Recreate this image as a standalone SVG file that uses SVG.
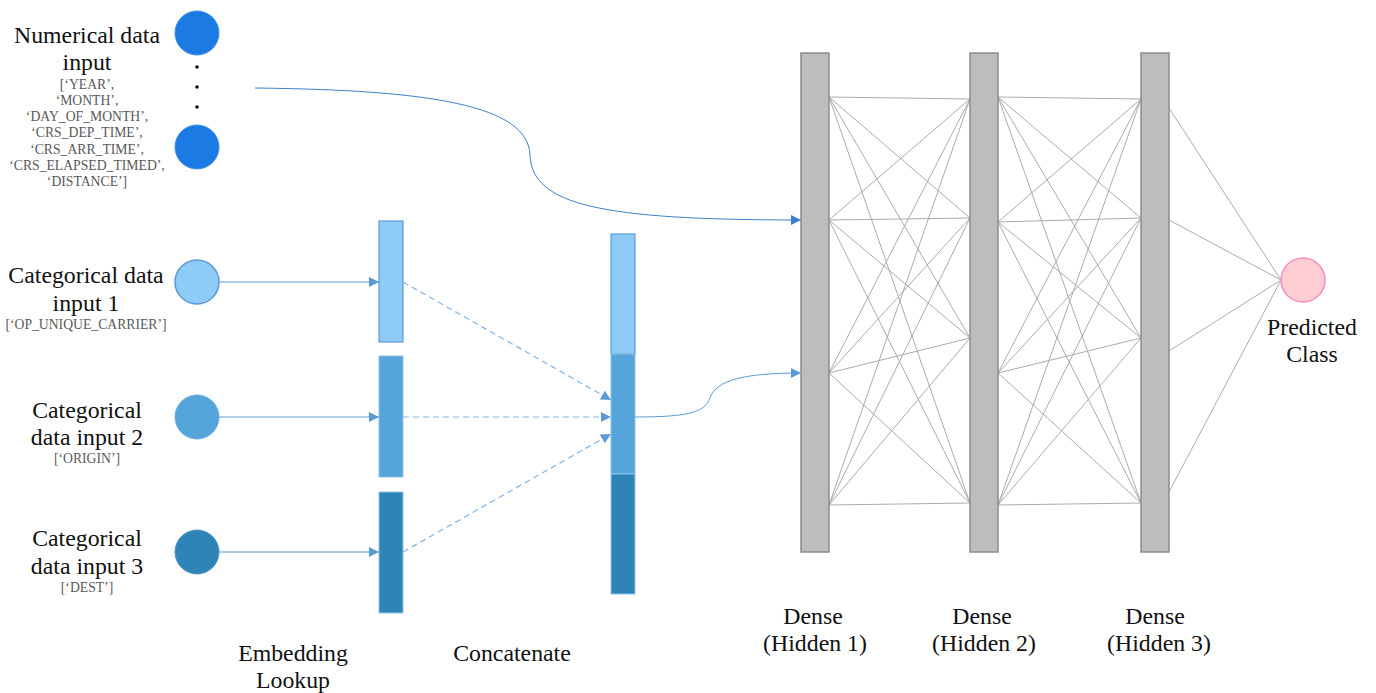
<svg xmlns="http://www.w3.org/2000/svg" width="1376" height="693" viewBox="0 0 1376 693">
<style>
.t{font-family:"Liberation Serif","Times New Roman",serif;font-size:23.8px;fill:#111;text-anchor:middle}
.s{font-family:"Liberation Serif","Times New Roman",serif;font-size:13.7px;fill:#595959;text-anchor:middle}
.nn{stroke:#ababab;stroke-width:1;fill:none}
.dense{fill:#bdbdbd;stroke:#8c8c8c;stroke-width:1.5}
.in{stroke:#5b9bd5;stroke-width:1;fill:none}
.dash{stroke:#80b4e6;stroke-width:1.2;fill:none;stroke-dasharray:6 4}
</style>
<defs>
<marker id="ah" viewBox="0 0 10 10" refX="10" refY="5" markerWidth="10" markerHeight="10" markerUnits="userSpaceOnUse" orient="auto">
<path d="M0,0 L10,5 L0,10 z" fill="#5b9bd5"/>
</marker>
<marker id="ah2" viewBox="0 0 10 10" refX="10" refY="5" markerWidth="10" markerHeight="10" markerUnits="userSpaceOnUse" orient="auto">
<path d="M0,0 L10,5 L0,10 z" fill="#3f7fd0"/>
</marker>
</defs>
<rect width="1376" height="693" fill="#fff"/>

<g id="numerical">
<circle cx="197" cy="33" r="22" fill="#1c7be2" stroke="#3a8ee8" stroke-width="1"/>
<circle cx="197" cy="67" r="1.8" fill="#111"/>
<circle cx="197" cy="87" r="1.8" fill="#111"/>
<circle cx="197" cy="107" r="1.8" fill="#111"/>
<circle cx="197" cy="147" r="22" fill="#1c7be2" stroke="#3a8ee8" stroke-width="1"/>
<text class="t" x="87" y="43">Numerical data</text>
<text class="t" x="87" y="70">input</text>
<text class="s" x="87" y="89">[‘YEAR’,</text>
<text class="s" x="87" y="105">‘MONTH’,</text>
<text class="s" x="87" y="121">‘DAY_OF_MONTH’,</text>
<text class="s" x="87" y="137">‘CRS_DEP_TIME’,</text>
<text class="s" x="87" y="154">‘CRS_ARR_TIME’,</text>
<text class="s" x="87" y="170">‘CRS_ELAPSED_TIMED’,</text>
<text class="s" x="87" y="186">‘DISTANCE’]</text>
</g>

<g id="cat1">
<circle cx="197" cy="282" r="22" fill="#8ecbf7" stroke="#5b9bd5" stroke-width="1.5"/>
<text class="t" x="86" y="283">Categorical data</text>
<text class="t" x="86" y="311">input 1</text>
<text class="s" x="86" y="329">[‘OP_UNIQUE_CARRIER’]</text>
</g>
<g id="cat2">
<circle cx="197" cy="417" r="22" fill="#55a5da" stroke="#6aaee0" stroke-width="1"/>
<text class="t" x="87" y="418">Categorical</text>
<text class="t" x="87" y="445">data input 2</text>
<text class="s" x="87" y="463">[‘ORIGIN’]</text>
</g>
<g id="cat3">
<circle cx="197" cy="552" r="22" fill="#2e83b7" stroke="#4a94c4" stroke-width="1"/>
<text class="t" x="87" y="546">Categorical</text>
<text class="t" x="87" y="574">data input 3</text>
<text class="s" x="87" y="592">[‘DEST’]</text>
</g>

<g id="embedding">
<rect x="379" y="221" width="24" height="121" fill="#8ecbf7" stroke="#5b9bd5" stroke-width="1.2"/>
<rect x="379" y="356" width="24" height="121" fill="#55a5da" stroke="#8ec3ea" stroke-width="1"/>
<rect x="379" y="492" width="24" height="121" fill="#2e83b7" stroke="#8ec3ea" stroke-width="1"/>
<text class="t" x="293" y="661">Embedding</text>
<text class="t" x="293" y="688">Lookup</text>
</g>

<g id="concatenate">
<rect x="611" y="234" width="24" height="120" fill="#8ecbf7" stroke="#5b9bd5" stroke-width="1.2"/>
<rect x="611" y="354" width="24" height="120" fill="#55a5da" stroke="#8ec3ea" stroke-width="1"/>
<rect x="611" y="474" width="24" height="120" fill="#2e83b7" stroke="#8ec3ea" stroke-width="1"/>
<text class="t" x="512" y="661">Concatenate</text>
</g>

<g id="connectors">
<line class="in" x1="219" y1="282" x2="379" y2="282" marker-end="url(#ah)"/>
<line class="in" x1="219" y1="417" x2="379" y2="417" marker-end="url(#ah)"/>
<line class="in" x1="219" y1="552" x2="379" y2="552" marker-end="url(#ah)"/>
<line class="dash" x1="403" y1="282" x2="611" y2="400" marker-end="url(#ah)"/>
<line class="dash" x1="403" y1="417" x2="611" y2="417" marker-end="url(#ah)"/>
<line class="dash" x1="403" y1="552" x2="611" y2="434" marker-end="url(#ah)"/>
<path class="in" d="M635,417 C690,417 705,412 710,398 C716,380 745,373 801,373" marker-end="url(#ah)"/>
<path d="M255,88 C430,90 528,105 530,155 C532,205 600,220 801,220" fill="none" stroke="#3f7fd0" stroke-width="1" marker-end="url(#ah2)"/>

<g id="nn12">
<path class="nn" d="M829,97 L970,99 M829,97 L970,218 M829,97 L970,338 M829,97 L970,503
M829,220 L970,99 M829,220 L970,218 M829,220 L970,338 M829,220 L970,503
M829,373 L970,99 M829,373 L970,218 M829,373 L970,338 M829,373 L970,503
M829,505 L970,99 M829,505 L970,218 M829,505 L970,338 M829,505 L970,503"/>
</g>
<g id="nn23">
<path class="nn" d="M998,97 L1141,99 M998,97 L1141,218 M998,97 L1141,338 M998,97 L1141,503
M998,222 L1141,99 M998,222 L1141,218 M998,222 L1141,338 M998,222 L1141,503
M998,373 L1141,99 M998,373 L1141,218 M998,373 L1141,338 M998,373 L1141,503
M998,505 L1141,99 M998,505 L1141,218 M998,505 L1141,338 M998,505 L1141,503"/>
</g>
<path class="nn" d="M1169,108 L1281,280 M1169,220 L1281,280 M1169,351 L1281,280 M1169,492 L1281,280"/>
</g>

<g id="dense1">
<rect class="dense" x="801" y="53" width="28" height="499"/>
<text class="t" x="813" y="624">Dense</text>
<text class="t" x="815" y="651">(Hidden 1)</text>
</g>
<g id="dense2">
<rect class="dense" x="970" y="53" width="28" height="499"/>
<text class="t" x="982" y="624">Dense</text>
<text class="t" x="984" y="651">(Hidden 2)</text>
</g>
<g id="dense3">
<rect class="dense" x="1141" y="53" width="28" height="499"/>
<text class="t" x="1155" y="624">Dense</text>
<text class="t" x="1159" y="651">(Hidden 3)</text>
</g>

<g id="output">
<circle cx="1303" cy="280" r="22" fill="#fdcdd2" stroke="#f48fc0" stroke-width="1.5"/>
<text class="t" x="1312" y="335">Predicted</text>
<text class="t" x="1312" y="362">Class</text>
</g>
</svg>
